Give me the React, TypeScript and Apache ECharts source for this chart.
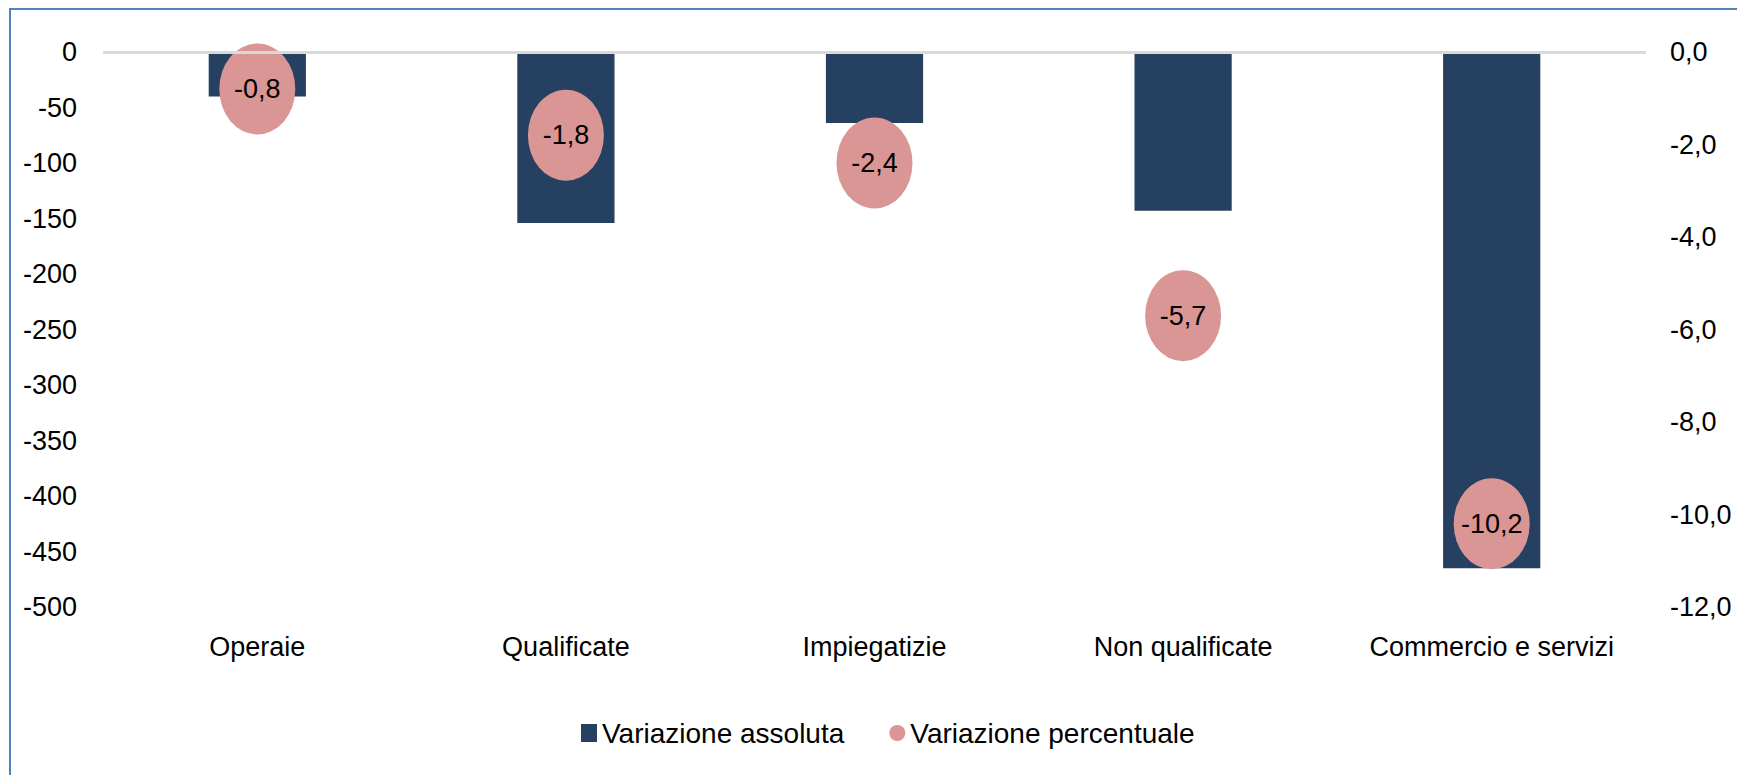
import React, { useEffect, useRef } from "react";
import * as echarts from "echarts";

const categories = ["Operaie", "Qualificate", "Impiegatizie", "Non qualificate", "Commercio e servizi"];
const absoluteValues = [-40, -154, -64, -143, -465];
const percentValues = [-0.8, -1.8, -2.4, -5.7, -10.2];
const seriesNames = ["Variazione assoluta", "Variazione percentuale"];

const FONT = "'Liberation Sans', Arial, sans-serif";
const ELLIPSE = "path://M50,0 A50,50 0 1,1 50,100 A50,50 0 1,1 50,0 Z";

export default function App() {
  const ref = useRef<HTMLDivElement>(null);
  useEffect(() => {
    if (!ref.current) return;
    const chart = echarts.init(ref.current, undefined, { renderer: "svg" });
    chart.setOption({
      animation: false,
      backgroundColor: "#ffffff",
      textStyle: { fontFamily: FONT },
      graphic: [
        {
          type: "rect",
          shape: { x: 10, y: 9, width: 1900, height: 900 },
          style: { fill: "none", stroke: "#4f81bd", lineWidth: 2 },
          silent: true,
        },
      ],
      grid: { left: 103, right: 91, top: 52, bottom: 168, containLabel: false },
      legend: {
        top: 714,
        left: 576,
        itemWidth: 16,
        itemHeight: 18,
        itemGap: 45,
        textStyle: { fontSize: 28, color: "#000", fontFamily: FONT },
        data: [
          { name: seriesNames[0], icon: "rect" },
          { name: seriesNames[1], icon: ELLIPSE },
        ],
      },
      xAxis: {
        type: "category",
        data: categories,
        position: "bottom",
        axisLine: { show: false, onZero: false },
        axisTick: { show: false },
        axisLabel: { fontSize: 27, color: "#000", margin: 26, fontFamily: FONT, interval: 0 },
      },
      yAxis: [
        {
          type: "value",
          min: -500,
          max: 0,
          interval: 50,
          axisLine: { show: false },
          axisTick: { show: false },
          splitLine: { show: false },
          axisLabel: { fontSize: 27, color: "#000", margin: 26, fontFamily: FONT },
        },
        {
          type: "value",
          min: -12,
          max: 0,
          interval: 2,
          position: "right",
          axisLine: { show: false },
          axisTick: { show: false },
          splitLine: { show: false },
          axisLabel: {
            fontSize: 27,
            color: "#000",
            margin: 24,
            fontFamily: FONT,
            formatter: (v: number) => v.toFixed(1).replace(".", ","),
          },
        },
      ],
      series: [
        {
          name: seriesNames[0],
          type: "bar",
          data: absoluteValues,
          barWidth: "31.5%",
          itemStyle: { color: "#254061" },
          markLine: {
            silent: true,
            symbol: "none",
            label: { show: false },
            lineStyle: { color: "#d9d9d9", width: 3, type: "solid" },
            data: [{ yAxis: 0 }],
          },
        },
        {
          name: seriesNames[1],
          type: "scatter",
          yAxisIndex: 1,
          data: percentValues,
          symbol: ELLIPSE,
          symbolSize: [76, 91],
          itemStyle: { color: "#d99694", opacity: 1 },
          label: {
            show: true,
            position: "inside",
            fontSize: 27,
            color: "#000",
            fontFamily: FONT,
            formatter: (p: any) => String(p.value).replace(".", ","),
          },
        },
      ],
    });
    return () => chart.dispose();
  }, []);
  return (
    <div
      ref={ref}
      style={{ position: "fixed", left: 0, top: 0, width: 1737, height: 775 }}
    />
  );
}
